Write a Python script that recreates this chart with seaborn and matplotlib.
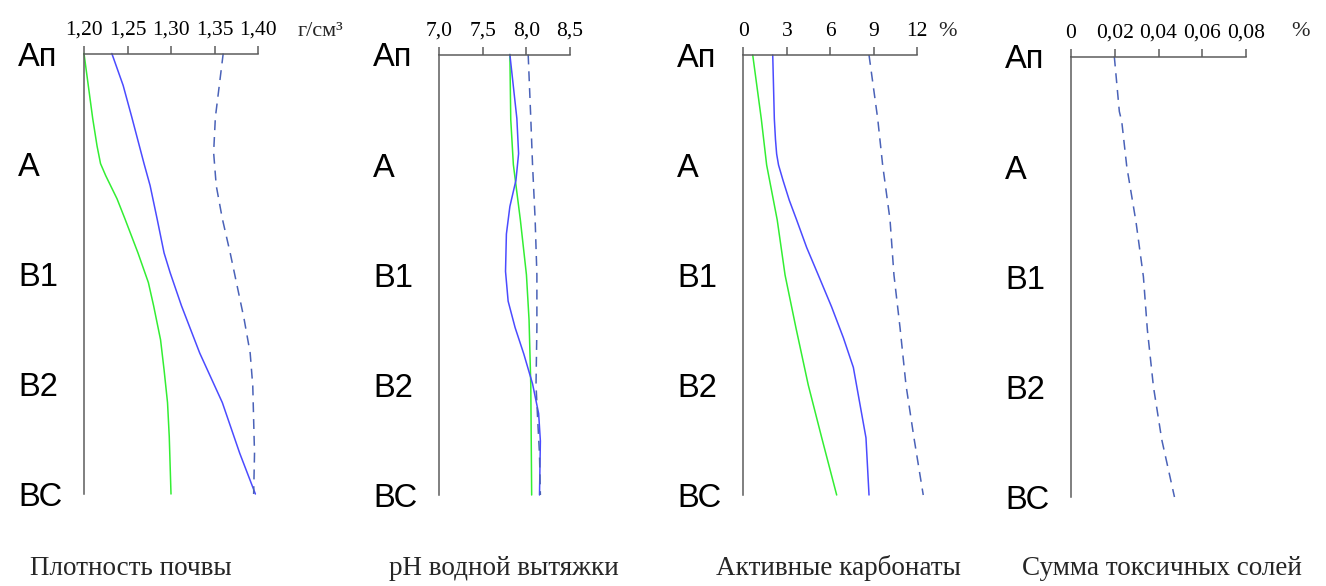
import matplotlib
matplotlib.use("Agg")
import matplotlib.pyplot as plt
import seaborn as sns
import pandas as pd

# Genetic horizons of the soil profile (top to bottom)
horizons = ["Ап", "А", "В1", "В2", "ВС"]
horizon_pos = [0, 1, 2, 3, 4]

# --- Плотность почвы, г/см3 ---
dens_depth_1 = [0, 0.59, 0.84, 1.0, 1.11, 1.32, 1.5, 1.81, 2.08, 2.29, 2.6, 2.87, 3.17, 3.48, 4.0]
dens_1 = [1.200, 1.210, 1.215, 1.219, 1.225, 1.238, 1.247, 1.262, 1.274, 1.280, 1.288, 1.292, 1.296, 1.298, 1.300]
dens_depth_2 = [0, 0.29, 0.58, 1.0, 1.2, 1.5, 1.81, 1.99, 2.29, 2.72, 3.17, 3.63, 4.0]
dens_2 = [1.232, 1.245, 1.255, 1.269, 1.276, 1.284, 1.292, 1.299, 1.312, 1.333, 1.359, 1.379, 1.397]
dens_depth_3 = [0, 0.58, 0.9, 1.2, 1.5, 1.81, 2.11, 2.41, 2.72, 3.02, 3.33, 3.63, 4.0]
dens_3 = [1.360, 1.351, 1.349, 1.352, 1.359, 1.368, 1.376, 1.384, 1.391, 1.394, 1.395, 1.396, 1.395]

# --- pH водной вытяжки ---
ph_depth_1 = [0, 0.59, 1.0, 1.5, 2.0, 2.41, 3.0, 4.0]
ph_1 = [7.81, 7.82, 7.85, 7.93, 8.00, 8.03, 8.05, 8.06]
ph_depth_2 = [0, 0.58, 0.9, 1.14, 1.38, 1.63, 1.97, 2.24, 2.48, 2.72, 2.99, 3.26, 3.51, 4.0]
ph_2 = [7.81, 7.89, 7.91, 7.88, 7.81, 7.77, 7.76, 7.79, 7.87, 7.97, 8.07, 8.14, 8.16, 8.15]
ph_depth_3 = [0, 0.58, 1.0, 1.5, 2.0, 2.48, 3.0, 3.33, 3.63, 4.0]
ph_3 = [8.02, 8.05, 8.07, 8.10, 8.12, 8.12, 8.11, 8.13, 8.15, 8.16]

# --- Активные карбонаты, % ---
carb_depth_1 = [0, 0.58, 1.0, 1.5, 2.0, 2.48, 3.0, 3.48, 4.0]
carb_1 = [0.65, 1.24, 1.61, 2.34, 2.88, 3.63, 4.48, 5.41, 6.44]
carb_depth_2 = [0, 0.58, 0.77, 0.9, 1.0, 1.14, 1.32, 1.5, 1.75, 2.0, 2.29, 2.57, 2.84, 3.09, 3.48, 4.0]
carb_2 = [2.03, 2.14, 2.22, 2.30, 2.43, 2.74, 3.17, 3.68, 4.37, 5.17, 6.09, 6.90, 7.59, 7.93, 8.46, 8.67]
carb_depth_3 = [0, 0.58, 1.0, 1.5, 2.0, 2.48, 3.0, 3.48, 4.0]
carb_3 = [8.67, 9.27, 9.61, 10.12, 10.39, 10.81, 11.22, 11.77, 12.41]

# --- Сумма токсичных солей, % ---
salt_depth_3 = [0, 0.5, 0.59, 1.0, 1.5, 2.0, 2.48, 3.0, 3.48, 4.0]
salt_3 = [0.0198, 0.0221, 0.0232, 0.0255, 0.0297, 0.0331, 0.0349, 0.0377, 0.0415, 0.0473]

# Tick values and labels for the top value axes
dens_ticks = [1.20, 1.25, 1.30, 1.35, 1.40]
dens_labels = ["1,20", "1,25", "1,30", "1,35", "1,40"]
ph_ticks = [7.0, 7.5, 8.0, 8.5]
ph_labels = ["7,0", "7,5", "8,0", "8,5"]
carb_ticks = [0, 3, 6, 9, 12]
carb_labels = ["0", "3", "6", "9", "12"]
salt_ticks = [0, 0.02, 0.04, 0.06, 0.08]
salt_labels = ["0", "0,02", "0,04", "0,06", "0,08"]

titles = ["Плотность почвы", "pH водной вытяжки", "Активные карбонаты", "Сумма токсичных солей"]
units = ["г/см³", "", "%", "%"]


def long_table(parts):
    frames = []
    for name, depth, vals in parts:
        frames.append(pd.DataFrame({"depth": depth, "value": vals, "profile": name}))
    return pd.concat(frames, ignore_index=True)


panels = [
    dict(data=long_table([("p1", dens_depth_1, dens_1), ("p2", dens_depth_2, dens_2),
                          ("p3", dens_depth_3, dens_3)]),
         ticks=dens_ticks, labels=dens_labels,
         box=(84, 258, 53.5, 494), title_x=131, unit_x=298),
    dict(data=long_table([("p1", ph_depth_1, ph_1), ("p2", ph_depth_2, ph_2),
                          ("p3", ph_depth_3, ph_3)]),
         ticks=ph_ticks, labels=ph_labels,
         box=(439.3, 570, 54.5, 495), title_x=504, unit_x=None),
    dict(data=long_table([("p1", carb_depth_1, carb_1), ("p2", carb_depth_2, carb_2),
                          ("p3", carb_depth_3, carb_3)]),
         ticks=carb_ticks, labels=carb_labels,
         box=(743.3, 917.3, 55, 495), title_x=838, unit_x=938),
    dict(data=long_table([("p3", salt_depth_3, salt_3)]),
         ticks=salt_ticks, labels=salt_labels,
         box=(1071, 1246, 56.5, 497), title_x=1162, unit_x=1291),
]

palette = {"p1": "#33ee33", "p2": "#4b4bff", "p3": "#4a62b8"}
dashes = {"p1": "", "p2": "", "p3": (6.5, 4.5)}

sns.set_style("white")
plt.rcParams["font.family"] = ["Liberation Serif", "DejaVu Serif"]

W, H = 1326, 586
fig = plt.figure(figsize=(W / 100, H / 100), dpi=100)
axis_color = "#5c5c5c"

for i, p in enumerate(panels):
    x0, x1, top, bottom = p["box"]
    ax = fig.add_axes([x0 / W, 1 - bottom / H, (x1 - x0) / W, (bottom - top) / H])
    df = p["data"]
    names = list(df["profile"].unique())
    sns.lineplot(data=df, x="value", y="depth", hue="profile", style="profile",
                 palette={k: palette[k] for k in names},
                 dashes={k: dashes[k] for k in names},
                 sort=False, estimator=None, legend=False, linewidth=1.1, ax=ax)
    for ln in ax.lines:
        ln.set_clip_on(False)

    ax.set_xlim(p["ticks"][0], p["ticks"][-1])
    ax.set_ylim(4, 0)
    ax.set_xlabel("")
    ax.set_ylabel("")

    for side in ("right", "bottom"):
        ax.spines[side].set_visible(False)
    for side in ("left", "top"):
        ax.spines[side].set_color(axis_color)
        ax.spines[side].set_linewidth(1.1)

    ax.xaxis.tick_top()
    ax.set_xticks(p["ticks"], p["labels"])
    ax.tick_params(axis="x", direction="out", length=5.8, width=1.1, color=axis_color,
                   pad=4, labelsize=15.5, labelcolor="black",
                   labelfontfamily="Liberation Serif")

    ax.set_yticks(horizon_pos, horizons)
    ax.tick_params(axis="y", direction="out", length=11.5, width=1.1, color=axis_color,
                   pad=36, labelsize=23.5, labelcolor="black",
                   labelfontfamily="Liberation Sans")
    for lbl in ax.get_yticklabels():
        lbl.set_horizontalalignment("left")

    if p["unit_x"] is not None:
        fig.text(p["unit_x"] / W, 1 - 36 / H, units[i], ha="left", va="baseline",
                 fontsize=16, family="Liberation Serif")

    fig.text(p["title_x"] / W, 1 - 575 / H, titles[i], ha="center", va="baseline",
             fontsize=19.5, family="Liberation Serif")

fig.savefig("out.png", dpi=100, facecolor="white")
